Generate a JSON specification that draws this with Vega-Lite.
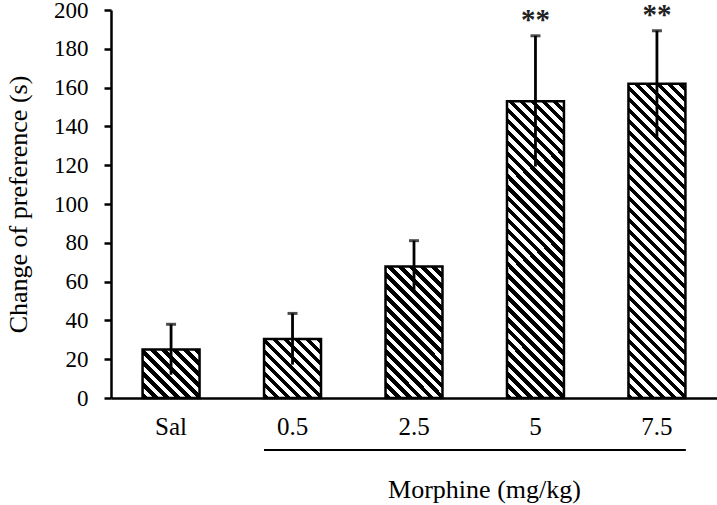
{
"$schema": "https://vega.github.io/schema/vega-lite/v6.json",
"width": 606,
"height": 388,
"autosize": {"type": "none"},
"padding": {"left": 111, "top": 10, "right": 0, "bottom": 107},
"background": "white",
"config": {"view": {"stroke": null}, "font": "Liberation Serif",
"axisY": {"values": [0,20,40,60,80,100,120,140,160,180,200], "grid": false, "domainColor": "black", "domainWidth": 2.5, "tickColor": "black", "tickWidth": 2.5, "tickSize": 7, "labelFontSize": 23, "labelColor": "black", "labelPadding": 16, "titleFontSize": 26, "titleFontWeight": "normal", "titleColor": "black", "titlePadding": 22},
"axisX": {"domainColor": "black", "domainWidth": 2.5, "ticks": false, "labelFontSize": 25, "labelColor": "black", "labelPadding": 16, "labelAngle": 0, "titleFontSize": 26, "titleFontWeight": "normal", "titleColor": "black", "titleX": 373, "titleY": 99, "titleBaseline": "alphabetic"}
},
"data": {"values": [
{"dose": "Sal", "mean": 25, "lo": 12, "hi": 38, "sig": ""},
{"dose": "0.5", "mean": 30.4, "lo": 17.2, "hi": 43.6, "sig": ""},
{"dose": "2.5", "mean": 67.8, "lo": 54.7, "hi": 81.1, "sig": ""},
{"dose": "5", "mean": 153, "lo": 119.3, "hi": 186.7, "sig": "**"},
{"dose": "7.5", "mean": 162, "lo": 133.6, "hi": 189.3, "sig": "**"}
]},
"encoding": {
"x": {"field": "dose", "type": "nominal", "sort": null, "title": "Morphine (mg/kg)",
"scale": {"paddingInner": 0.531, "paddingOuter": 0.26}}
},
"layer": [
{"mark": {"type": "bar", "stroke": "black", "strokeWidth": 2.5},
"encoding": {
"y": {"field": "mean", "type": "quantitative", "scale": {"domain": [0, 200], "nice": false}, "title": "Change of preference (s)"},
"fill": {"condition": [
{"test": "datum.dose === 'Sal'", "value": {"gradient": "linear", "x1": 0, "y1": 1, "x2": 1.0736, "y2": 0.0865, "stops": [
{"offset":0.0521,"color":"#000"},{"offset":0.0521,"color":"#fff"},
{"offset":0.1043,"color":"#fff"},{"offset":0.1043,"color":"#000"},
{"offset":0.1564,"color":"#000"},{"offset":0.1564,"color":"#fff"},
{"offset":0.2085,"color":"#fff"},{"offset":0.2085,"color":"#000"},
{"offset":0.2607,"color":"#000"},{"offset":0.2607,"color":"#fff"},
{"offset":0.3128,"color":"#fff"},{"offset":0.3128,"color":"#000"},
{"offset":0.3649,"color":"#000"},{"offset":0.3649,"color":"#fff"},
{"offset":0.4171,"color":"#fff"},{"offset":0.4171,"color":"#000"},
{"offset":0.4692,"color":"#000"},{"offset":0.4692,"color":"#fff"},
{"offset":0.5213,"color":"#fff"},{"offset":0.5213,"color":"#000"},
{"offset":0.5735,"color":"#000"},{"offset":0.5735,"color":"#fff"},
{"offset":0.6256,"color":"#fff"},{"offset":0.6256,"color":"#000"},
{"offset":0.6777,"color":"#000"},{"offset":0.6777,"color":"#fff"},
{"offset":0.7299,"color":"#fff"},{"offset":0.7299,"color":"#000"},
{"offset":0.7820,"color":"#000"},{"offset":0.7820,"color":"#fff"},
{"offset":0.8341,"color":"#fff"},{"offset":0.8341,"color":"#000"},
{"offset":0.8863,"color":"#000"},{"offset":0.8863,"color":"#fff"},
{"offset":0.9384,"color":"#fff"},{"offset":0.9384,"color":"#000"},
{"offset":0.9905,"color":"#000"},{"offset":0.9905,"color":"#fff"}]}},
{"test": "datum.dose === '0.5'", "value": {"gradient": "linear", "x1": 0, "y1": 1, "x2": 0.9825, "y2": -0.017, "stops": [
{"offset":0.0474,"color":"#000"},{"offset":0.0474,"color":"#fff"},
{"offset":0.0948,"color":"#fff"},{"offset":0.0948,"color":"#000"},
{"offset":0.1422,"color":"#000"},{"offset":0.1422,"color":"#fff"},
{"offset":0.1897,"color":"#fff"},{"offset":0.1897,"color":"#000"},
{"offset":0.2371,"color":"#000"},{"offset":0.2371,"color":"#fff"},
{"offset":0.2845,"color":"#fff"},{"offset":0.2845,"color":"#000"},
{"offset":0.3319,"color":"#000"},{"offset":0.3319,"color":"#fff"},
{"offset":0.3793,"color":"#fff"},{"offset":0.3793,"color":"#000"},
{"offset":0.4267,"color":"#000"},{"offset":0.4267,"color":"#fff"},
{"offset":0.4741,"color":"#fff"},{"offset":0.4741,"color":"#000"},
{"offset":0.5216,"color":"#000"},{"offset":0.5216,"color":"#fff"},
{"offset":0.5690,"color":"#fff"},{"offset":0.5690,"color":"#000"},
{"offset":0.6164,"color":"#000"},{"offset":0.6164,"color":"#fff"},
{"offset":0.6638,"color":"#fff"},{"offset":0.6638,"color":"#000"},
{"offset":0.7112,"color":"#000"},{"offset":0.7112,"color":"#fff"},
{"offset":0.7586,"color":"#fff"},{"offset":0.7586,"color":"#000"},
{"offset":0.8060,"color":"#000"},{"offset":0.8060,"color":"#fff"},
{"offset":0.8535,"color":"#fff"},{"offset":0.8535,"color":"#000"},
{"offset":0.9009,"color":"#000"},{"offset":0.9009,"color":"#fff"},
{"offset":0.9483,"color":"#fff"},{"offset":0.9483,"color":"#000"},
{"offset":0.9957,"color":"#000"},{"offset":0.9957,"color":"#fff"}]}},
{"test": "datum.dose === '2.5'", "value": {"gradient": "linear", "x1": 0, "y1": 1, "x2": 0.5231, "y2": -0.2068, "stops": [
{"offset":0.0292,"color":"#000"},{"offset":0.0292,"color":"#fff"},
{"offset":0.0584,"color":"#fff"},{"offset":0.0584,"color":"#000"},
{"offset":0.0875,"color":"#000"},{"offset":0.0875,"color":"#fff"},
{"offset":0.1167,"color":"#fff"},{"offset":0.1167,"color":"#000"},
{"offset":0.1459,"color":"#000"},{"offset":0.1459,"color":"#fff"},
{"offset":0.1751,"color":"#fff"},{"offset":0.1751,"color":"#000"},
{"offset":0.2042,"color":"#000"},{"offset":0.2042,"color":"#fff"},
{"offset":0.2334,"color":"#fff"},{"offset":0.2334,"color":"#000"},
{"offset":0.2626,"color":"#000"},{"offset":0.2626,"color":"#fff"},
{"offset":0.2918,"color":"#fff"},{"offset":0.2918,"color":"#000"},
{"offset":0.3210,"color":"#000"},{"offset":0.3210,"color":"#fff"},
{"offset":0.3501,"color":"#fff"},{"offset":0.3501,"color":"#000"},
{"offset":0.3793,"color":"#000"},{"offset":0.3793,"color":"#fff"},
{"offset":0.4085,"color":"#fff"},{"offset":0.4085,"color":"#000"},
{"offset":0.4377,"color":"#000"},{"offset":0.4377,"color":"#fff"},
{"offset":0.4668,"color":"#fff"},{"offset":0.4668,"color":"#000"},
{"offset":0.4960,"color":"#000"},{"offset":0.4960,"color":"#fff"},
{"offset":0.5252,"color":"#fff"},{"offset":0.5252,"color":"#000"},
{"offset":0.5544,"color":"#000"},{"offset":0.5544,"color":"#fff"},
{"offset":0.5836,"color":"#fff"},{"offset":0.5836,"color":"#000"},
{"offset":0.6127,"color":"#000"},{"offset":0.6127,"color":"#fff"},
{"offset":0.6419,"color":"#fff"},{"offset":0.6419,"color":"#000"},
{"offset":0.6711,"color":"#000"},{"offset":0.6711,"color":"#fff"},
{"offset":0.7003,"color":"#fff"},{"offset":0.7003,"color":"#000"},
{"offset":0.7294,"color":"#000"},{"offset":0.7294,"color":"#fff"},
{"offset":0.7586,"color":"#fff"},{"offset":0.7586,"color":"#000"},
{"offset":0.7878,"color":"#000"},{"offset":0.7878,"color":"#fff"},
{"offset":0.8170,"color":"#fff"},{"offset":0.8170,"color":"#000"},
{"offset":0.8462,"color":"#000"},{"offset":0.8462,"color":"#fff"},
{"offset":0.8753,"color":"#fff"},{"offset":0.8753,"color":"#000"},
{"offset":0.9045,"color":"#000"},{"offset":0.9045,"color":"#fff"},
{"offset":0.9337,"color":"#fff"},{"offset":0.9337,"color":"#000"},
{"offset":0.9629,"color":"#000"},{"offset":0.9629,"color":"#fff"},
{"offset":0.9921,"color":"#fff"},{"offset":0.9921,"color":"#000"}]}},
{"test": "datum.dose === '5'", "value": {"gradient": "linear", "x1": 0, "y1": 1, "x2": 0.2208, "y2": -0.1497, "stops": [
{"offset":0.0155,"color":"#000"},{"offset":0.0155,"color":"#fff"},
{"offset":0.0311,"color":"#fff"},{"offset":0.0311,"color":"#000"},
{"offset":0.0466,"color":"#000"},{"offset":0.0466,"color":"#fff"},
{"offset":0.0622,"color":"#fff"},{"offset":0.0622,"color":"#000"},
{"offset":0.0777,"color":"#000"},{"offset":0.0777,"color":"#fff"},
{"offset":0.0933,"color":"#fff"},{"offset":0.0933,"color":"#000"},
{"offset":0.1088,"color":"#000"},{"offset":0.1088,"color":"#fff"},
{"offset":0.1244,"color":"#fff"},{"offset":0.1244,"color":"#000"},
{"offset":0.1399,"color":"#000"},{"offset":0.1399,"color":"#fff"},
{"offset":0.1555,"color":"#fff"},{"offset":0.1555,"color":"#000"},
{"offset":0.1710,"color":"#000"},{"offset":0.1710,"color":"#fff"},
{"offset":0.1866,"color":"#fff"},{"offset":0.1866,"color":"#000"},
{"offset":0.2021,"color":"#000"},{"offset":0.2021,"color":"#fff"},
{"offset":0.2176,"color":"#fff"},{"offset":0.2176,"color":"#000"},
{"offset":0.2332,"color":"#000"},{"offset":0.2332,"color":"#fff"},
{"offset":0.2487,"color":"#fff"},{"offset":0.2487,"color":"#000"},
{"offset":0.2643,"color":"#000"},{"offset":0.2643,"color":"#fff"},
{"offset":0.2798,"color":"#fff"},{"offset":0.2798,"color":"#000"},
{"offset":0.2954,"color":"#000"},{"offset":0.2954,"color":"#fff"},
{"offset":0.3109,"color":"#fff"},{"offset":0.3109,"color":"#000"},
{"offset":0.3265,"color":"#000"},{"offset":0.3265,"color":"#fff"},
{"offset":0.3420,"color":"#fff"},{"offset":0.3420,"color":"#000"},
{"offset":0.3576,"color":"#000"},{"offset":0.3576,"color":"#fff"},
{"offset":0.3731,"color":"#fff"},{"offset":0.3731,"color":"#000"},
{"offset":0.3887,"color":"#000"},{"offset":0.3887,"color":"#fff"},
{"offset":0.4042,"color":"#fff"},{"offset":0.4042,"color":"#000"},
{"offset":0.4197,"color":"#000"},{"offset":0.4197,"color":"#fff"},
{"offset":0.4353,"color":"#fff"},{"offset":0.4353,"color":"#000"},
{"offset":0.4508,"color":"#000"},{"offset":0.4508,"color":"#fff"},
{"offset":0.4664,"color":"#fff"},{"offset":0.4664,"color":"#000"},
{"offset":0.4819,"color":"#000"},{"offset":0.4819,"color":"#fff"},
{"offset":0.4975,"color":"#fff"},{"offset":0.4975,"color":"#000"},
{"offset":0.5130,"color":"#000"},{"offset":0.5130,"color":"#fff"},
{"offset":0.5286,"color":"#fff"},{"offset":0.5286,"color":"#000"},
{"offset":0.5441,"color":"#000"},{"offset":0.5441,"color":"#fff"},
{"offset":0.5597,"color":"#fff"},{"offset":0.5597,"color":"#000"},
{"offset":0.5752,"color":"#000"},{"offset":0.5752,"color":"#fff"},
{"offset":0.5907,"color":"#fff"},{"offset":0.5907,"color":"#000"},
{"offset":0.6063,"color":"#000"},{"offset":0.6063,"color":"#fff"},
{"offset":0.6218,"color":"#fff"},{"offset":0.6218,"color":"#000"},
{"offset":0.6374,"color":"#000"},{"offset":0.6374,"color":"#fff"},
{"offset":0.6529,"color":"#fff"},{"offset":0.6529,"color":"#000"},
{"offset":0.6685,"color":"#000"},{"offset":0.6685,"color":"#fff"},
{"offset":0.6840,"color":"#fff"},{"offset":0.6840,"color":"#000"},
{"offset":0.6996,"color":"#000"},{"offset":0.6996,"color":"#fff"},
{"offset":0.7151,"color":"#fff"},{"offset":0.7151,"color":"#000"},
{"offset":0.7307,"color":"#000"},{"offset":0.7307,"color":"#fff"},
{"offset":0.7462,"color":"#fff"},{"offset":0.7462,"color":"#000"},
{"offset":0.7618,"color":"#000"},{"offset":0.7618,"color":"#fff"},
{"offset":0.7773,"color":"#fff"},{"offset":0.7773,"color":"#000"},
{"offset":0.7928,"color":"#000"},{"offset":0.7928,"color":"#fff"},
{"offset":0.8084,"color":"#fff"},{"offset":0.8084,"color":"#000"},
{"offset":0.8239,"color":"#000"},{"offset":0.8239,"color":"#fff"},
{"offset":0.8395,"color":"#fff"},{"offset":0.8395,"color":"#000"},
{"offset":0.8550,"color":"#000"},{"offset":0.8550,"color":"#fff"},
{"offset":0.8706,"color":"#fff"},{"offset":0.8706,"color":"#000"},
{"offset":0.8861,"color":"#000"},{"offset":0.8861,"color":"#fff"},
{"offset":0.9017,"color":"#fff"},{"offset":0.9017,"color":"#000"},
{"offset":0.9172,"color":"#000"},{"offset":0.9172,"color":"#fff"},
{"offset":0.9328,"color":"#fff"},{"offset":0.9328,"color":"#000"},
{"offset":0.9483,"color":"#000"},{"offset":0.9483,"color":"#fff"},
{"offset":0.9639,"color":"#fff"},{"offset":0.9639,"color":"#000"},
{"offset":0.9794,"color":"#000"},{"offset":0.9794,"color":"#fff"},
{"offset":0.9949,"color":"#fff"},{"offset":0.9949,"color":"#000"}]}}
],
"value": {"gradient": "linear", "x1": 0, "y1": 1, "x2": 0.2074, "y2": -0.1437, "stops": [
{"offset":0.0148,"color":"#000"},{"offset":0.0148,"color":"#fff"},
{"offset":0.0296,"color":"#fff"},{"offset":0.0296,"color":"#000"},
{"offset":0.0444,"color":"#000"},{"offset":0.0444,"color":"#fff"},
{"offset":0.0593,"color":"#fff"},{"offset":0.0593,"color":"#000"},
{"offset":0.0741,"color":"#000"},{"offset":0.0741,"color":"#fff"},
{"offset":0.0889,"color":"#fff"},{"offset":0.0889,"color":"#000"},
{"offset":0.1037,"color":"#000"},{"offset":0.1037,"color":"#fff"},
{"offset":0.1185,"color":"#fff"},{"offset":0.1185,"color":"#000"},
{"offset":0.1333,"color":"#000"},{"offset":0.1333,"color":"#fff"},
{"offset":0.1481,"color":"#fff"},{"offset":0.1481,"color":"#000"},
{"offset":0.1629,"color":"#000"},{"offset":0.1629,"color":"#fff"},
{"offset":0.1778,"color":"#fff"},{"offset":0.1778,"color":"#000"},
{"offset":0.1926,"color":"#000"},{"offset":0.1926,"color":"#fff"},
{"offset":0.2074,"color":"#fff"},{"offset":0.2074,"color":"#000"},
{"offset":0.2222,"color":"#000"},{"offset":0.2222,"color":"#fff"},
{"offset":0.2370,"color":"#fff"},{"offset":0.2370,"color":"#000"},
{"offset":0.2518,"color":"#000"},{"offset":0.2518,"color":"#fff"},
{"offset":0.2666,"color":"#fff"},{"offset":0.2666,"color":"#000"},
{"offset":0.2814,"color":"#000"},{"offset":0.2814,"color":"#fff"},
{"offset":0.2963,"color":"#fff"},{"offset":0.2963,"color":"#000"},
{"offset":0.3111,"color":"#000"},{"offset":0.3111,"color":"#fff"},
{"offset":0.3259,"color":"#fff"},{"offset":0.3259,"color":"#000"},
{"offset":0.3407,"color":"#000"},{"offset":0.3407,"color":"#fff"},
{"offset":0.3555,"color":"#fff"},{"offset":0.3555,"color":"#000"},
{"offset":0.3703,"color":"#000"},{"offset":0.3703,"color":"#fff"},
{"offset":0.3851,"color":"#fff"},{"offset":0.3851,"color":"#000"},
{"offset":0.4000,"color":"#000"},{"offset":0.4000,"color":"#fff"},
{"offset":0.4148,"color":"#fff"},{"offset":0.4148,"color":"#000"},
{"offset":0.4296,"color":"#000"},{"offset":0.4296,"color":"#fff"},
{"offset":0.4444,"color":"#fff"},{"offset":0.4444,"color":"#000"},
{"offset":0.4592,"color":"#000"},{"offset":0.4592,"color":"#fff"},
{"offset":0.4740,"color":"#fff"},{"offset":0.4740,"color":"#000"},
{"offset":0.4888,"color":"#000"},{"offset":0.4888,"color":"#fff"},
{"offset":0.5036,"color":"#fff"},{"offset":0.5036,"color":"#000"},
{"offset":0.5185,"color":"#000"},{"offset":0.5185,"color":"#fff"},
{"offset":0.5333,"color":"#fff"},{"offset":0.5333,"color":"#000"},
{"offset":0.5481,"color":"#000"},{"offset":0.5481,"color":"#fff"},
{"offset":0.5629,"color":"#fff"},{"offset":0.5629,"color":"#000"},
{"offset":0.5777,"color":"#000"},{"offset":0.5777,"color":"#fff"},
{"offset":0.5925,"color":"#fff"},{"offset":0.5925,"color":"#000"},
{"offset":0.6073,"color":"#000"},{"offset":0.6073,"color":"#fff"},
{"offset":0.6221,"color":"#fff"},{"offset":0.6221,"color":"#000"},
{"offset":0.6370,"color":"#000"},{"offset":0.6370,"color":"#fff"},
{"offset":0.6518,"color":"#fff"},{"offset":0.6518,"color":"#000"},
{"offset":0.6666,"color":"#000"},{"offset":0.6666,"color":"#fff"},
{"offset":0.6814,"color":"#fff"},{"offset":0.6814,"color":"#000"},
{"offset":0.6962,"color":"#000"},{"offset":0.6962,"color":"#fff"},
{"offset":0.7110,"color":"#fff"},{"offset":0.7110,"color":"#000"},
{"offset":0.7258,"color":"#000"},{"offset":0.7258,"color":"#fff"},
{"offset":0.7407,"color":"#fff"},{"offset":0.7407,"color":"#000"},
{"offset":0.7555,"color":"#000"},{"offset":0.7555,"color":"#fff"},
{"offset":0.7703,"color":"#fff"},{"offset":0.7703,"color":"#000"},
{"offset":0.7851,"color":"#000"},{"offset":0.7851,"color":"#fff"},
{"offset":0.7999,"color":"#fff"},{"offset":0.7999,"color":"#000"},
{"offset":0.8147,"color":"#000"},{"offset":0.8147,"color":"#fff"},
{"offset":0.8295,"color":"#fff"},{"offset":0.8295,"color":"#000"},
{"offset":0.8443,"color":"#000"},{"offset":0.8443,"color":"#fff"},
{"offset":0.8592,"color":"#fff"},{"offset":0.8592,"color":"#000"},
{"offset":0.8740,"color":"#000"},{"offset":0.8740,"color":"#fff"},
{"offset":0.8888,"color":"#fff"},{"offset":0.8888,"color":"#000"},
{"offset":0.9036,"color":"#000"},{"offset":0.9036,"color":"#fff"},
{"offset":0.9184,"color":"#fff"},{"offset":0.9184,"color":"#000"},
{"offset":0.9332,"color":"#000"},{"offset":0.9332,"color":"#fff"},
{"offset":0.9480,"color":"#fff"},{"offset":0.9480,"color":"#000"},
{"offset":0.9628,"color":"#000"},{"offset":0.9628,"color":"#fff"},
{"offset":0.9777,"color":"#fff"},{"offset":0.9777,"color":"#000"},
{"offset":0.9925,"color":"#000"},{"offset":0.9925,"color":"#fff"}]}
}
}},
{"mark": {"type": "rule", "color": "black", "strokeWidth": 2.8},
"encoding": {
"y": {"field": "lo", "type": "quantitative", "scale": {"domain": [0, 200], "nice": false}, "title": "Change of preference (s)"},
"y2": {"field": "hi"}
}},
{"mark": {"type": "tick", "color": "black", "size": 10, "thickness": 3},
"encoding": {
"y": {"field": "hi", "type": "quantitative", "scale": {"domain": [0, 200], "nice": false}, "title": "Change of preference (s)"}
}},
{"mark": {"type": "text", "color": "#222", "fontSize": 29, "fontWeight": "bold", "font": "Liberation Serif", "baseline": "alphabetic", "dy": -7},
"encoding": {
"y": {"field": "hi", "type": "quantitative", "scale": {"domain": [0, 200], "nice": false}, "title": "Change of preference (s)"},
"text": {"field": "sig"}
}},
{"mark": {"type": "rule", "color": "black", "strokeWidth": 1.5},
"encoding": {
"x": {"datum": "0.5", "type": "nominal", "bandPosition": 0, "title": "Morphine (mg/kg)"},
"x2": {"datum": "7.5", "bandPosition": 1},
"y": {"datum": -26.8, "type": "quantitative", "scale": {"domain": [0, 200], "nice": false}, "title": "Change of preference (s)"}
}}
]
}
